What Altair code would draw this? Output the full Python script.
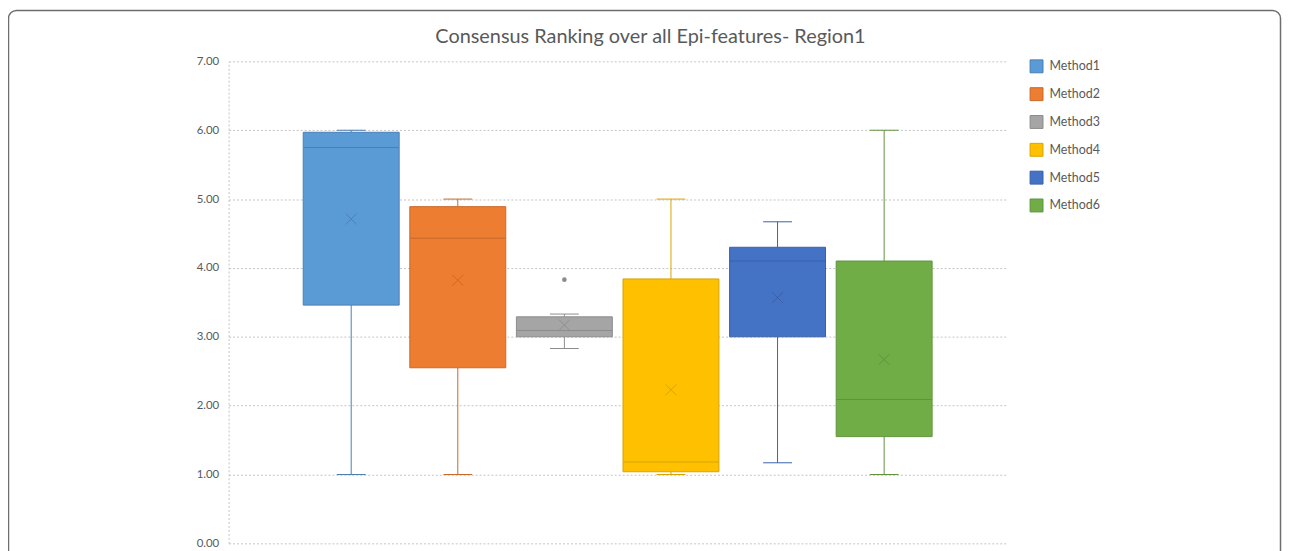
import altair as alt
import pandas as pd

methods = ["Method1", "Method2", "Method3", "Method4", "Method5", "Method6"]
lower = [1.00, 1.00, 2.83, 1.00, 1.17, 1.00]
q1 = [3.46, 2.55, 3.00, 1.04, 3.00, 1.55]
median = [5.75, 4.43, 3.09, 1.18, 4.10, 2.09]
q3 = [5.97, 4.89, 3.29, 3.84, 4.30, 4.10]
upper = [6.00, 5.00, 3.33, 5.00, 4.67, 6.00]
mean = [4.71, 3.82, 3.17, 2.23, 3.57, 2.67]
outlier_method = ["Method3"]
outlier_value = [3.83]

fills = ["#5B9BD5", "#ED7D31", "#A5A5A5", "#FFC000", "#4472C4", "#70AD47"]
lines = ["#4A7EB4", "#C8692A", "#8C8C8C", "#D9A300", "#3A61A7", "#5F933C"]

df = pd.DataFrame({
    "method": methods, "lower": lower, "q1": q1, "median": median,
    "q3": q3, "upper": upper, "mean": mean, "line": lines,
})
out_df = pd.DataFrame({"method": outlier_method, "value": outlier_value,
                       "line": ["#8C8C8C"]})

xscale = alt.Scale(domain=methods, paddingInner=0.1, paddingOuter=0.7)
x = alt.X("method:N", scale=xscale, axis=None)
yscale = alt.Scale(domain=[0, 7], nice=False, zero=True)
yaxis = alt.Axis(values=[0, 1, 2, 3, 4, 5, 6, 7], format=".2f", title=None,
                 ticks=False, labelPadding=10, labelFontSize=11.5,
                 labelFont="Lato", labelColor="#595959",
                 grid=True, gridColor="#C4C4C4", gridDash=[2, 2],
                 domain=True, domainColor="#C4C4C4", domainDash=[2, 2])
line_col = alt.Color("line:N", scale=None)

base = alt.Chart(df)

frame = alt.Chart(pd.DataFrame({"a": [0]})).mark_rect(
    fill=None, stroke="#6E6E6E", strokeWidth=1.5, cornerRadius=8
).encode(x=alt.value(-221.5), x2=alt.value(1058.5),
         y=alt.value(-51.2), y2=alt.value(620))

whisk_low = base.mark_rule(strokeWidth=1).encode(
    x=x, y=alt.Y("lower:Q", scale=yscale, axis=yaxis), y2="q1:Q", color=line_col)
whisk_up = base.mark_rule(strokeWidth=1).encode(
    x=x, y=alt.Y("q3:Q", scale=yscale, axis=yaxis), y2="upper:Q", color=line_col)

boxes = base.mark_bar(strokeWidth=1).encode(
    x=x,
    y=alt.Y("q1:Q", scale=yscale, axis=yaxis),
    y2="q3:Q",
    fill=alt.Fill("method:N", scale=alt.Scale(domain=methods, range=fills),
                  legend=alt.Legend(title=None)),
    stroke=alt.Stroke("method:N", scale=alt.Scale(domain=methods, range=lines),
                      legend=alt.Legend(title=None)),
)

med = base.mark_tick(thickness=1, size=96, opacity=1).encode(
    x=x, y=alt.Y("median:Q", scale=yscale, axis=yaxis), color=line_col)
cap_low = base.mark_tick(thickness=1, size=29, opacity=1).encode(
    x=x, y=alt.Y("lower:Q", scale=yscale, axis=yaxis), color=line_col)
cap_up = base.mark_tick(thickness=1, size=29, opacity=1).encode(
    x=x, y=alt.Y("upper:Q", scale=yscale, axis=yaxis), color=line_col)

means = base.mark_point(shape="M-1,-1L1,1M-1,1L1,-1", size=121, strokeWidth=1,
                        filled=False, opacity=0.9).encode(
    x=x, y=alt.Y("mean:Q", scale=yscale, axis=yaxis), color=line_col)

outs = alt.Chart(out_df).mark_point(shape="circle", size=22, filled=True,
                                    opacity=1).encode(
    x=x, y=alt.Y("value:Q", scale=yscale, axis=yaxis), color=line_col)

chart = alt.layer(
    frame, whisk_low, whisk_up, boxes, med, cap_low, cap_up, means, outs
).properties(
    width=783, height=485,
    autosize=alt.AutoSizeParams(type="none"),
    padding={"left": 222, "top": 52, "right": 277, "bottom": 6},
    title=alt.TitleParams(
        text="Consensus Ranking over all Epi-features- Region1",
        anchor="middle", dx=33, dy=37, fontSize=20, font="Lato",
        fontWeight="normal", color="#595959", offset=0),
).configure_view(stroke=None).configure_legend(
    orient="none", legendX=806, legendY=-2, padding=0,
    symbolType="square", symbolSize=169, symbolStrokeWidth=1,
    labelFont="Lato", labelFontSize=12.5, labelColor="#595959",
    labelOffset=6, rowPadding=10,
)

chart.save("out.html", embed_options={"renderer": "svg", "actions": False})
